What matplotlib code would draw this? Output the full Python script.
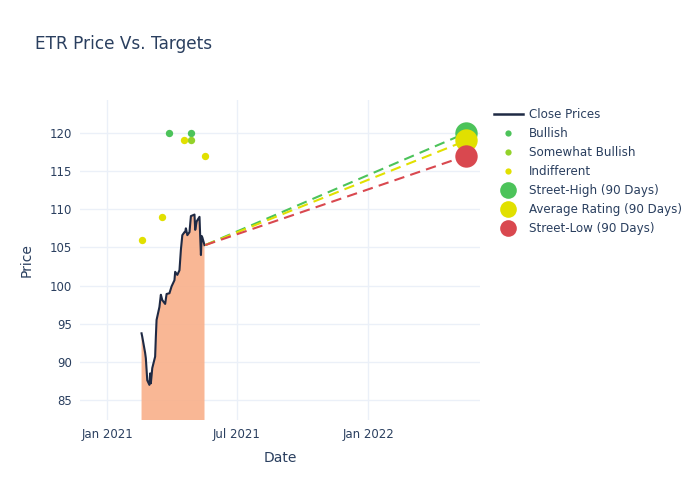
import matplotlib
matplotlib.use("Agg")
import matplotlib.pyplot as plt
import matplotlib.dates as mdates
from matplotlib.lines import Line2D
import pandas as pd

plt.rcParams['font.family'] = ['DejaVu Sans']

price_dates = ["2021-02-18", "2021-02-19", "2021-02-23", "2021-02-24", "2021-02-26",
               "2021-03-01", "2021-03-02", "2021-03-03", "2021-03-05", "2021-03-09",
               "2021-03-10", "2021-03-11", "2021-03-15", "2021-03-17", "2021-03-19",
               "2021-03-23", "2021-03-25", "2021-03-29", "2021-04-01", "2021-04-05",
               "2021-04-06", "2021-04-09", "2021-04-12", "2021-04-14", "2021-04-16",
               "2021-04-19", "2021-04-20", "2021-04-21", "2021-04-23", "2021-04-26",
               "2021-04-28", "2021-05-03", "2021-05-04", "2021-05-06", "2021-05-10",
               "2021-05-11", "2021-05-12", "2021-05-13", "2021-05-14", "2021-05-17"]
close_prices = [93.75, 93.3, 91.2, 90.5, 87.6,
                87.0, 88.5, 87.2, 89.2, 90.7,
                93.3, 95.5, 97.2, 98.8, 98.1,
                97.6, 98.9, 99.0, 99.9, 100.7,
                101.8, 101.4, 102.0, 104.7, 106.6,
                107.0, 107.0, 107.5, 106.6, 107.0,
                109.1, 109.3, 107.3, 108.4, 109.0,
                106.4, 104.0, 106.5, 106.3, 105.3]

bullish_dates = ["2021-03-29", "2021-04-28"]
bullish_vals = [120, 120]
sbullish_dates = ["2021-04-28"]
sbullish_vals = [119]
indiff_dates = ["2021-02-18", "2021-03-18", "2021-04-19", "2021-05-18"]
indiff_vals = [106, 109, 119, 117]

target_start_date = "2021-05-18"
target_date = "2022-05-18"
street_high = 120
avg_rating = 119
street_low = 117

c_green = "#4CC35A"
c_sgreen = "#93D22A"
c_yellow = "#E1E000"
c_red = "#D9484F"
c_line = "#1F2A44"
c_fill = "#F9B08A"
txt = "#2a3f5f"
grid = "#EBF0F8"

fig = plt.figure(figsize=(7, 5), dpi=100)
ax = fig.add_axes([80/700, 80/500, 400/700, 320/500])

pdates = pd.to_datetime(price_dates)
ax.fill_between(pdates, close_prices, 0, color=c_fill, alpha=0.9, linewidth=0, zorder=2)
ax.plot(pdates, close_prices, color=c_line, linewidth=1.5, zorder=3)

ts = pd.to_datetime(target_start_date)
te = pd.to_datetime(target_date)
last = close_prices[-1]
ax.plot([ts, te], [last, street_high], color=c_green, ls=(0, (5, 3)), lw=1.5, zorder=3)
ax.plot([ts, te], [last, avg_rating], color=c_yellow, ls=(0, (5, 3)), lw=1.5, zorder=3)
ax.plot([ts, te], [last, street_low], color=c_red, ls=(0, (5, 3)), lw=1.5, zorder=3)

ax.scatter(pd.to_datetime(bullish_dates), bullish_vals, s=28, color=c_green, zorder=4, linewidths=0)
ax.scatter(pd.to_datetime(sbullish_dates), sbullish_vals, s=28, color=c_sgreen, zorder=4, linewidths=0)
ax.scatter(pd.to_datetime(indiff_dates), indiff_vals, s=28, color=c_yellow, zorder=4, linewidths=0)

ax.scatter([te], [street_high], s=260, color=c_green, zorder=5, linewidths=0)
ax.scatter([te], [avg_rating], s=260, color=c_yellow, zorder=5, linewidths=0)
ax.scatter([te], [street_low], s=260, color=c_red, zorder=5, linewidths=0)

ax.set_xlim(pd.Timestamp("2020-11-24"), pd.Timestamp("2022-06-06"))
ax.set_ylim(82.4, 124.3)
ax.set_yticks([85, 90, 95, 100, 105, 110, 115, 120])
ax.set_xticks(pd.to_datetime(["2021-01-01", "2021-07-01", "2022-01-01"]))
ax.xaxis.set_major_formatter(mdates.DateFormatter("%b %Y"))

for s in ax.spines.values():
    s.set_visible(False)
ax.grid(True, color=grid, linewidth=1, zorder=0)
ax.set_axisbelow(True)
ax.tick_params(length=0, colors=txt, labelsize=8.5, pad=6)

ax.set_xlabel("Date", color=txt, fontsize=10, labelpad=7)
ax.set_ylabel("Price", color=txt, fontsize=10, labelpad=11)
fig.text(35/700, 1 - 44/500, "ETR Price Vs. Targets", color=txt, fontsize=12.2, va="center", ha="left")

handles = [
    Line2D([], [], color=c_line, lw=1.8),
    Line2D([], [], ls="", marker="o", ms=4.5, color=c_green, mew=0),
    Line2D([], [], ls="", marker="o", ms=4.5, color=c_sgreen, mew=0),
    Line2D([], [], ls="", marker="o", ms=4.5, color=c_yellow, mew=0),
    Line2D([], [], ls="", marker="o", ms=12, color=c_green, mew=0),
    Line2D([], [], ls="", marker="o", ms=12, color=c_yellow, mew=0),
    Line2D([], [], ls="", marker="o", ms=12, color=c_red, mew=0),
]
labels = ["Close Prices", "Bullish", "Somewhat Bullish", "Indifferent",
          "Street-High (90 Days)", "Average Rating (90 Days)", "Street-Low (90 Days)"]
leg = fig.legend(handles, labels, loc="upper left", bbox_to_anchor=(494/700, 1 - 108/500),
                 frameon=False, fontsize=8.6, handlelength=2.4, handletextpad=0.55,
                 labelspacing=0.5, borderaxespad=0, borderpad=0)
for t in leg.get_texts():
    t.set_color(txt)

fig.savefig("out.png", dpi=100, facecolor="white")
